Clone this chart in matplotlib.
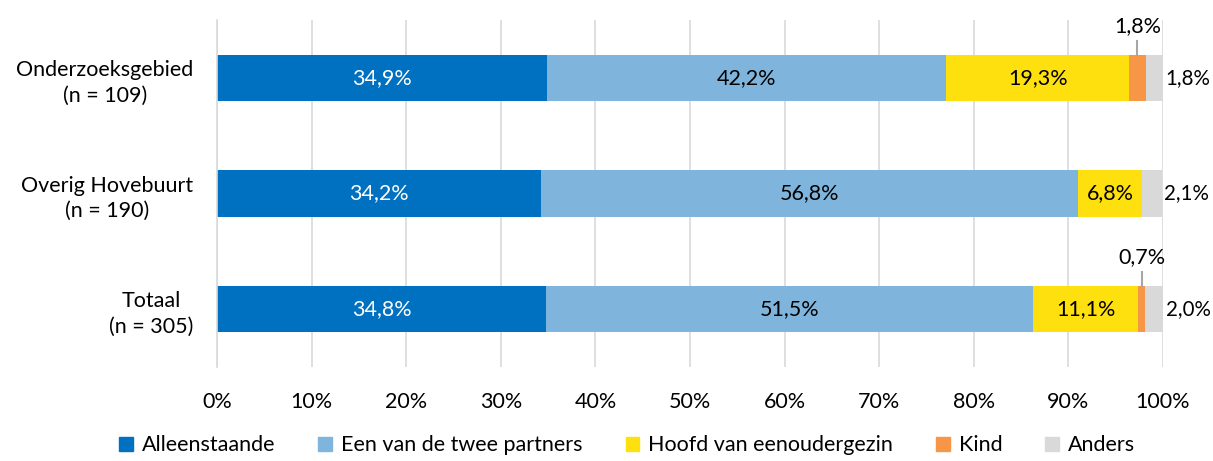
import matplotlib
matplotlib.use("Agg")
import matplotlib.pyplot as plt
from matplotlib.patches import Patch

plt.rcParams['font.family'] = ['Lato', 'DejaVu Sans']

categories = ["Onderzoeksgebied\n(n = 109)", "Overig Hovebuurt\n(n = 190)", "Totaal\n(n = 305)"]
series_names = ["Alleenstaande", "Een van de twee partners", "Hoofd van eenoudergezin", "Kind", "Anders"]
alleenstaande = [34.9, 34.2, 34.8]
partners = [42.2, 56.8, 51.5]
hoofd = [19.3, 6.8, 11.1]
kind = [1.8, 0.0, 0.7]
anders = [1.8, 2.1, 2.0]
xticks = [0, 10, 20, 30, 40, 50, 60, 70, 80, 90, 100]

colors = ["#0070C0", "#7FB5DD", "#FFE00F", "#F79646", "#D9D9D9"]
series = [alleenstaande, partners, hoofd, kind, anders]

fig = plt.figure(figsize=(12.13, 4.61), dpi=100)
ax = fig.add_axes([0.1789, 0.2039, 0.7799, 0.7527])

fs = 15.5
ypos = list(range(len(categories)))
left = [0.0] * len(categories)
bh = 0.4
for si, (vals, col) in enumerate(zip(series, colors)):
    ax.barh(ypos, vals, left=left, height=bh, color=col, zorder=2)
    for i, v in enumerate(vals):
        cx = left[i] + v / 2
        if si < 3:
            ax.text(cx, ypos[i], f"{v:.1f}%".replace(".", ","), ha="center", va="center",
                    color="white" if si == 0 else "black", fontsize=fs, zorder=3)
        elif si == 3 and v > 0:
            ax.plot([cx, cx], [ypos[i] - bh / 2, ypos[i] - bh / 2 - 0.12], color="#A6A6A6", lw=1.5, zorder=3)
            ax.text(cx, ypos[i] - bh / 2 - 0.16, f"{v:.1f}%".replace(".", ","), ha="center", va="bottom",
                    color="black", fontsize=fs, zorder=3)
        elif si == 4:
            ax.text(left[i] + v + 0.25, ypos[i], f"{v:.1f}%".replace(".", ","), ha="left", va="center",
                    color="black", fontsize=14.8, zorder=3)
    left = [l + v for l, v in zip(left, vals)]

ax.set_xlim(0, 100)
ax.set_ylim(len(categories) - 0.5, -0.5)
ax.set_yticks(ypos)
ax.set_yticklabels(categories, fontsize=fs, multialignment="center", linespacing=1.35)
ax.set_xticks(xticks)
ax.set_xticklabels([f"{t}%" for t in xticks], fontsize=fs)
ax.tick_params(axis="y", length=0, pad=17)
ax.tick_params(axis="x", length=0, pad=18)
ax.grid(axis="x", color="#D9D9D9", lw=1.2, zorder=0)
for s in ["top", "right", "bottom"]:
    ax.spines[s].set_visible(False)
ax.spines["left"].set_color("#D9D9D9")
ax.spines["left"].set_linewidth(1.2)

handles = [Patch(color=c, label=n) for c, n in zip(colors, series_names)]
fig.legend(handles=handles, loc="lower center", bbox_to_anchor=(0.517, -0.03), ncol=5, frameon=False,
           fontsize=fs, handlelength=0.65, handleheight=0.65, handletextpad=0.4, columnspacing=2.0)

fig.savefig("out.png", dpi=100)
